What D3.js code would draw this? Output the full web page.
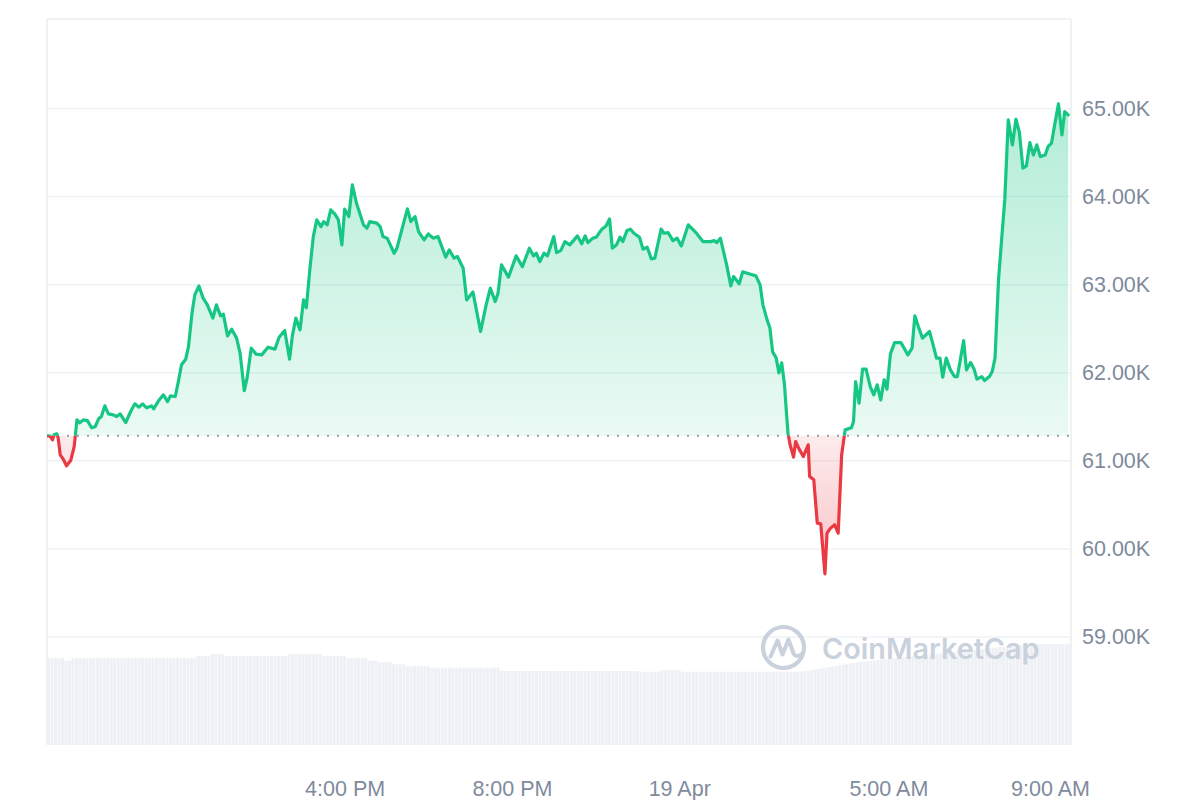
<!DOCTYPE html>
<html>
<head>
<meta charset="utf-8">
<script src="https://cdn.jsdelivr.net/npm/d3@7"></script>
<style>
  html, body { margin: 0; padding: 0; background: #ffffff; }
  svg { display: block; }
</style>
</head>
<body>
<svg id="chart" width="1200" height="800"></svg>
<script>
// ---------------- DATA ----------------
// Chart window start (18 Apr 2024, 08:53) ; price samples as minutes after start
const startTime = "2024-04-18T08:53";
const windowMinutes = 1469;

const minutes = [0,4,8,10,14,16,19,23,28,34,39,43,47,52,58,64,69,74,78,83,
88,95,100,105,113,120,126,132,137,143,150,153,160,167,173,177,184,188,193,199,
203,208,212,218,224,230,238,243,249,253,259,265,272,277,283,287,293,300,308,317,
327,333,341,348,352,357,363,368,372,377,382,387,393,397,402,407,413,418,423,427,
433,438,444,454,459,463,473,478,482,488,498,502,517,522,528,533,541,547,554,561,
572,577,584,589,597,602,611,622,630,636,643,647,652,662,673,682,692,698,702,707,
713,718,727,731,737,743,750,761,767,772,776,783,788,796,802,807,811,817,822,826,
832,837,842,850,855,861,867,872,881,885,891,898,904,910,920,931,941,952,957,961,
966,975,981,985,993,998,1008,1017,1023,1027,1033,1037,1041,1046,1050,1054,1058,1060,1063,1066,
1071,1074,1079,1085,1092,1094,1100,1105,1110,1116,1119,1124,1130,1135,1140,1145,1148,1154,1157,1160,
1165,1170,1175,1181,1186,1191,1196,1201,1205,1210,1216,1225,1235,1241,1245,1250,1256,1266,1270,1276,
1281,1285,1290,1296,1302,1306,1315,1319,1325,1330,1334,1341,1345,1352,1356,1360,1365,1370,1374,1379,
1385,1390,1395,1400,1405,1410,1415,1420,1425,1432,1436,1441,1446,1451,1456,1460,1465];

const prices = [61284,61284,61238,61295,61306,61261,61068,61023,60943,61003,
61162,61465,61431,61465,61457,61375,61386,61477,61503,61624,
61533,61522,61503,61533,61435,61560,61647,61609,61647,61602,
61624,61590,61681,61749,61673,61738,61730,61882,62090,62154,
62297,62676,62884,62986,62847,62771,62620,62771,62646,62665,
62419,62495,62393,62222,61798,61939,62279,62211,62203,62290,
62268,62404,62479,62154,62419,62620,62487,62827,62737,63168,
63546,63735,63659,63716,63679,63849,63800,63735,63452,63857,
63773,64133,63925,63679,63641,63716,63698,63659,63546,63528,
63357,63414,63860,63716,63773,63603,63508,63576,63528,63546,
63312,63395,63301,63319,63187,62827,62918,62468,62771,62960,
62808,62903,63225,63085,63327,63205,63414,63327,63357,63262,
63357,63327,63546,63364,63387,63489,63452,63554,63463,63554,
63478,63528,63539,63630,63667,63747,63414,63452,63539,63489,
63614,63630,63584,63539,63403,63425,63293,63301,63630,63584,
63591,63500,63528,63440,63679,63591,63489,63489,63500,63478,
63528,63225,62986,63092,63009,63145,63122,63100,62998,62771,
62600,62510,62237,62169,61999,62112,61863,61636,61314,61182,
61042,61219,61133,61049,61182,60822,60784,60293,60285,59717,
60179,60236,60274,60179,61068,61352,61360,61375,61446,61900,
61655,62041,62041,61843,61749,61863,61692,61919,61814,62214,
62343,62343,62203,62279,62646,62524,62393,62468,62354,62166,
62166,61950,62166,62033,61957,61957,62365,62033,62116,62041,
61927,61957,61911,61957,62014,62166,63054,63565,63962,64870,
64587,64878,64726,64322,64348,64613,64473,64587,64454,64473,
64567,64606,64833,65052,64700,64965,64927];

// 24h volume (billion USD), one bar per 5 minutes from startTime
const volumeStepMinutes = 5;
const volume = [34.7,34.7,34.7,34.7,34.7,33.7,33.7,
34.7,34.7,34.7,34.7,34.7,34.7,34.7,34.7,34.7,34.7,34.7,34.7,34.7,34.7,34.7,34.7,34.7,34.7,
34.7,34.7,34.7,34.7,34.7,34.7,34.7,34.7,34.7,34.7,34.7,34.7,34.7,34.7,34.7,34.7,34.7,34.7,
35.6,35.6,35.6,35.6,36.4,36.4,36.4,36.4,
35.6,35.6,35.6,35.6,35.6,35.6,35.6,35.6,35.6,35.6,35.6,35.6,35.6,35.6,35.6,35.6,35.6,35.6,
36.4,36.4,36.4,36.4,36.4,36.4,36.4,36.4,36.4,36.4,
35.6,35.6,35.6,35.6,35.6,35.6,35.6,
34.7,34.7,34.7,34.7,34.7,34.7,33.7,33.7,33.7,
33.1,33.1,33.1,33.1,32.3,32.3,32.3,32.3,
31.5,31.5,31.5,31.5,31.5,31.5,31.5,
30.9,30.9,30.9,30.9,30.9,30.9,30.9,30.9,30.9,30.9,30.9,30.9,30.9,30.9,30.9,30.9,30.9,30.9,30.9,30.9,
29.6,29.6,29.6,29.6,29.6,29.6,29.6,29.6,29.6,29.6,29.6,29.6,29.6,29.6,29.6,29.6,29.6,29.6,29.6,29.6,
29.6,29.6,29.6,29.6,29.6,29.6,29.6,29.6,29.6,29.6,29.6,29.6,29.6,29.6,29.6,29.6,29.6,29.6,29.6,29.6,
29.3,29.3,29.3,29.3,29.3,29.3,29.9,29.9,29.9,29.9,29.9,29.9,
29.3,29.3,29.3,29.3,29.3,29.3,29.3,29.3,29.3,29.3,29.3,29.3,29.3,29.3,29.3,29.3,29.3,
29.3,29.3,29.3,29.3,29.3,29.3,29.3,29.3,29.3,29.3,29.3,29.3,29.3,29.3,29.3,29.3,29.3,
29.4,29.6,29.8,30.0,30.2,30.4,30.7,30.9,31.2,31.4,31.7,31.9,32.1,32.3,32.6,32.8,33.0,
33.2,33.3,33.5,33.6,33.8,33.9,34.1,34.2,34.4,34.5,34.7,34.8,35.0,35.1,35.3,35.4,35.6,35.7,35.9,36.0,
36.2,36.3,36.5,36.6,36.8,36.9,37.1,37.2,37.4,37.5,37.7,37.8,38.0,38.1,38.3,38.4,38.6,38.7,38.9,39.0,
39.2,39.3,39.5,39.6,39.8,39.9,40.0,40.1,40.2,40.3,
40.4,40.4,40.4,40.4,40.4,40.4,40.4,40.4,40.4,40.4,40.4];

const priceTicks = [59000, 60000, 61000, 62000, 63000, 64000, 65000];
const timeTicks = ["2024-04-18T16:00","2024-04-18T20:00","2024-04-19T00:00","2024-04-19T05:00","2024-04-19T09:00"];
const timeTickLabels = ["4:00 PM","8:00 PM","19 Apr","5:00 AM","9:00 AM"];
const watermarkText = "CoinMarketCap";

// ---------------- CHART ----------------
const parse = d3.timeParse("%Y-%m-%dT%H:%M");
const t0 = parse(startTime);
const addMin = (m) => new Date(t0.getTime() + m * 60000);

const plot = { left: 47, right: 1071, top: 19, bottom: 745 };
const GREEN = "#16c784", RED = "#ea3943", GRID = "#eff2f5", LABEL = "#808a9d";

const x = d3.scaleTime().domain([t0, addMin(windowMinutes)]).range([plot.left, plot.right]);
const y = d3.scaleLinear().domain([59000, 65000]).range([637, 108.5]);
const yVol = d3.scaleLinear().domain([0, 50]).range([plot.bottom, 620]);

const series = minutes.map((m, i) => ({ t: addMin(m), p: prices[i] }));
const base = prices[0];
const yBase = y(base);

const svg = d3.select("#chart");
const defs = svg.append("defs");

// gradients
const gUp = defs.append("linearGradient").attr("id", "gUp")
  .attr("gradientUnits", "userSpaceOnUse").attr("x1", 0).attr("x2", 0)
  .attr("y1", y(d3.max(prices))).attr("y2", yBase);
gUp.append("stop").attr("offset", 0).attr("stop-color", GREEN).attr("stop-opacity", 0.33);
gUp.append("stop").attr("offset", 1).attr("stop-color", GREEN).attr("stop-opacity", 0.09);

const gDn = defs.append("linearGradient").attr("id", "gDn")
  .attr("gradientUnits", "userSpaceOnUse").attr("x1", 0).attr("x2", 0)
  .attr("y1", yBase).attr("y2", y(d3.min(prices)));
gDn.append("stop").attr("offset", 0).attr("stop-color", RED).attr("stop-opacity", 0.1);
gDn.append("stop").attr("offset", 1).attr("stop-color", RED).attr("stop-opacity", 0.3);

// clips above / below baseline
defs.append("clipPath").attr("id", "clipUp").append("rect")
  .attr("x", plot.left).attr("y", 0).attr("width", plot.right - plot.left).attr("height", yBase);
defs.append("clipPath").attr("id", "clipDn").append("rect")
  .attr("x", plot.left).attr("y", yBase).attr("width", plot.right - plot.left).attr("height", 800 - yBase);

// volume bars
const barW = x(addMin(volumeStepMinutes)) - x(t0);
svg.append("g").selectAll("rect").data(volume).join("rect")
  .attr("x", (d, i) => x(addMin(i * volumeStepMinutes)))
  .attr("y", d => yVol(d))
  .attr("width", (d, i) => Math.max(0, Math.min(barW - 0.5, plot.right - x(addMin(i * volumeStepMinutes)))))
  .attr("height", d => plot.bottom - yVol(d))
  .attr("fill", "#edf0f4");

// gridlines
svg.append("g").selectAll("line").data(priceTicks).join("line")
  .attr("x1", plot.left).attr("x2", plot.right)
  .attr("y1", d => y(d)).attr("y2", d => y(d))
  .attr("stroke", GRID).attr("stroke-width", 1.5);

// frame
const frame = svg.append("g").attr("stroke", GRID).attr("stroke-width", 2);
frame.append("line").attr("x1", plot.left).attr("x2", plot.left).attr("y1", plot.top).attr("y2", plot.bottom);
frame.append("line").attr("x1", plot.right).attr("x2", plot.right).attr("y1", plot.top).attr("y2", plot.bottom);
frame.append("line").attr("x1", plot.left).attr("x2", plot.right).attr("y1", plot.top).attr("y2", plot.top);

// watermark
const wm = svg.append("g");
const cx = 783.5, cy = 647.5;
wm.append("circle").attr("cx", cx).attr("cy", cy).attr("r", 20.5)
  .attr("fill", "none").attr("stroke", "#c9d1dd").attr("stroke-width", 4.2);
wm.append("path")
  .attr("d", `M${cx-13},${cy+9} L${cx-6},${cy-7} L${cx-1},${cy+7} L${cx+5},${cy-8} L${cx+10},${cy+6} Q${cx+13},${cy+11} ${cx+19},${cy+6}`)
  .attr("fill", "none").attr("stroke", "#c9d1dd").attr("stroke-width", 4)
  .attr("stroke-linecap", "round").attr("stroke-linejoin", "round");
wm.append("text").attr("x", 822).attr("y", 659)
  .attr("font-family", "Inter, 'Noto Sans', sans-serif").attr("font-weight", 600)
  .attr("font-size", 28.8).attr("fill", "#c9d1dd").text(watermarkText);

// areas
const area = d3.area().x(d => x(d.t)).y0(yBase).y1(d => y(d.p));
svg.append("path").datum(series).attr("d", area).attr("fill", "url(#gUp)").attr("clip-path", "url(#clipUp)");
svg.append("path").datum(series).attr("d", area).attr("fill", "url(#gDn)").attr("clip-path", "url(#clipDn)");

// baseline (open price)
svg.append("line").attr("x1", plot.left).attr("x2", plot.right)
  .attr("y1", yBase).attr("y2", yBase)
  .attr("stroke", "#9a9fa8").attr("stroke-width", 2).attr("stroke-dasharray", "2 8");

// lines
const line = d3.line().x(d => x(d.t)).y(d => y(d.p));
svg.append("path").datum(series).attr("d", line).attr("fill", "none")
  .attr("stroke", GREEN).attr("stroke-width", 3.2).attr("stroke-linejoin", "round").attr("stroke-linecap", "round")
  .attr("clip-path", "url(#clipUp)");
svg.append("path").datum(series).attr("d", line).attr("fill", "none")
  .attr("stroke", RED).attr("stroke-width", 3.2).attr("stroke-linejoin", "round").attr("stroke-linecap", "round")
  .attr("clip-path", "url(#clipDn)");

// y axis (right)
const yAxis = svg.append("g").attr("transform", `translate(${plot.right},0)`)
  .call(d3.axisRight(y).tickValues(priceTicks).tickSize(0).tickPadding(11)
    .tickFormat(d => (d / 1000).toFixed(2) + "K"));
yAxis.select(".domain").remove();
yAxis.selectAll("text").attr("font-family", "'Liberation Sans', Arial, sans-serif")
  .attr("font-size", 21.5).attr("fill", LABEL);

// x axis (bottom)
const xAxis = svg.append("g").attr("transform", `translate(0,${plot.bottom})`)
  .call(d3.axisBottom(x).tickValues(timeTicks.map(parse)).tickSize(0).tickPadding(51)
    .tickFormat((d, i) => timeTickLabels[i]));
xAxis.select(".domain").remove();
xAxis.selectAll("text").attr("font-family", "'Liberation Sans', Arial, sans-serif")
  .attr("font-size", 21.5).attr("fill", LABEL).attr("dy", 0);
// keep last label inside the canvas edge
xAxis.selectAll("text").each(function () {
  const bb = this.getBBox();
  const tx = this.parentNode.transform.baseVal.consolidate().matrix.e;
  const right = tx + bb.x + bb.width;
  if (right > 1090) d3.select(this).attr("x", 1090 - right);
});
</script>
</body>
</html>
